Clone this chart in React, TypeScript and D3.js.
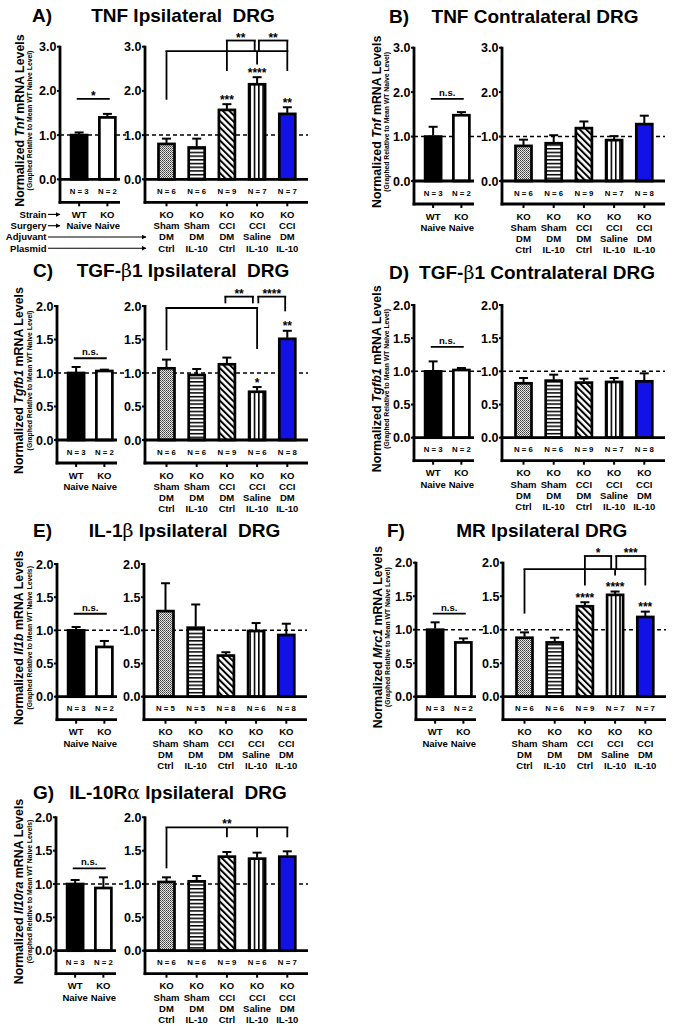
import React from 'react';
import * as d3 from 'd3';

// ---------- shared categories / ticks ----------
const leftGroups = [["WT", "Naive"], ["KO", "Naive"]];
const rightGroups = [
  ["KO", "Sham", "DM", "Ctrl"],
  ["KO", "Sham", "DM", "IL-10"],
  ["KO", "CCI", "DM", "Ctrl"],
  ["KO", "CCI", "Saline", "IL-10"],
  ["KO", "CCI", "DM", "IL-10"],
];
const rowNames = ["Strain", "Surgery", "Adjuvant", "Plasmid"];
const ticks3 = [0, 1, 2, 3];
const ticks2 = [0, 0.5, 1, 1.5, 2];
const ticks3Labels = ["0.0", "1.0", "2.0", "3.0"];
const ticks2Labels = ["0.0", "0.5", "1.0", "1.5", "2.0"];

// ---------- A) TNF ipsilateral ----------
const tnfIpsiLeft = [1.0, 1.4];
const tnfIpsiLeftSem = [0.06, 0.08];
const tnfIpsiLeftN = [3, 2];
const tnfIpsiRight = [0.8, 0.72, 1.57, 2.15, 1.48];
const tnfIpsiRightSem = [0.12, 0.2, 0.13, 0.16, 0.15];
const tnfIpsiRightN = [6, 6, 9, 7, 7];
const tnfIpsiStars = ["", "", "***", "****", "**"];

// ---------- B) TNF contralateral ----------
const tnfContraLeft = [1.0, 1.48];
const tnfContraLeftSem = [0.22, 0.07];
const tnfContraLeftN = [3, 2];
const tnfContraRight = [0.79, 0.85, 1.19, 0.92, 1.28];
const tnfContraRightSem = [0.14, 0.18, 0.15, 0.09, 0.19];
const tnfContraRightN = [6, 6, 9, 7, 8];

// ---------- C) TGF-b1 ipsilateral ----------
const tgfIpsiLeft = [1.0, 1.03];
const tgfIpsiLeftSem = [0.09, 0.02];
const tgfIpsiLeftN = [3, 2];
const tgfIpsiRight = [1.07, 0.97, 1.13, 0.72, 1.51];
const tgfIpsiRightSem = [0.13, 0.09, 0.1, 0.07, 0.12];
const tgfIpsiRightN = [6, 6, 9, 6, 8];
const tgfIpsiStars = ["", "", "", "*", "**"];

// ---------- D) TGF-b1 contralateral ----------
const tgfContraLeft = [1.0, 1.02];
const tgfContraLeftSem = [0.15, 0.03];
const tgfContraLeftN = [3, 2];
const tgfContraRight = [0.82, 0.86, 0.83, 0.84, 0.85];
const tgfContraRightSem = [0.08, 0.09, 0.06, 0.06, 0.12];
const tgfContraRightN = [6, 6, 9, 7, 8];

// ---------- E) IL-1b ipsilateral ----------
const il1bLeft = [1.0, 0.75];
const il1bLeftSem = [0.05, 0.09];
const il1bLeftN = [3, 2];
const il1bRight = [1.29, 1.04, 0.62, 0.99, 0.93];
const il1bRightSem = [0.42, 0.35, 0.05, 0.12, 0.17];
const il1bRightN = [5, 5, 8, 6, 8];

// ---------- F) MR ipsilateral ----------
const mrLeft = [1.0, 0.81];
const mrLeftSem = [0.11, 0.06];
const mrLeftN = [3, 2];
const mrRight = [0.88, 0.81, 1.35, 1.52, 1.19];
const mrRightSem = [0.08, 0.07, 0.06, 0.05, 0.08];
const mrRightN = [6, 6, 9, 7, 7];
const mrStars = ["", "", "****", "****", "***"];

// ---------- G) IL-10Ra ipsilateral ----------
const il10raLeft = [1.0, 0.94];
const il10raLeftSem = [0.06, 0.16];
const il10raLeftN = [3, 2];
const il10raRight = [1.03, 1.04, 1.41, 1.38, 1.41];
const il10raRightSem = [0.07, 0.08, 0.07, 0.09, 0.08];
const il10raRightN = [6, 6, 9, 6, 7];

const FONT = "'Liberation Sans', Arial, Helvetica, sans-serif";
const GREEK = "'DejaVu Serif', 'Liberation Serif', serif";
const BLUE = "#1212e6";
const fills = ["url(#pDots)", "url(#pHoriz)", "url(#pDiag)", "url(#pVert)", BLUE];

type Bracket = { x1: number; x2: number; y: number; legs: [number, number][]; label?: string; labelX?: number };

type PanelCfg = {
  label: string; labelX: number; title: { t: string; g?: boolean }[]; titleX: number; titleY: number;
  gene: string; sub: string; yLabX: number; subX: number;
  xL0: number; xR0: number; yTop: number; yZero: number; yMax: number; ticks: number[]; tickLabels: string[];
  left: number[]; leftSem: number[]; leftN: number[]; leftSig: string; leftSigLevel: number;
  right: number[]; rightSem: number[]; rightN: number[]; stars?: string[]; brackets?: Bracket[]; rows?: boolean;
};

const panels: PanelCfg[] = [
  {
    label: "A)", labelX: 32, title: [{ t: "TNF Ipsilateral  DRG" }], titleX: 183, titleY: 22,
    gene: "Tnf", sub: "(Graphed Relative to Mean WT Naive Level)", yLabX: 24, subX: 32,
    xL0: 60, xR0: 145, yTop: 46.7, yZero: 179.3, yMax: 3, ticks: ticks3, tickLabels: ticks3Labels,
    left: tnfIpsiLeft, leftSem: tnfIpsiLeftSem, leftN: tnfIpsiLeftN, leftSig: "*", leftSigLevel: 1.82,
    right: tnfIpsiRight, rightSem: tnfIpsiRightSem, rightN: tnfIpsiRightN, stars: tnfIpsiStars, rows: true,
    brackets: [
      { x1: 0, x2: 4, y: 2.9, legs: [[0, 1.8], [2, 2.45], [3, 2.6], [4, 2.45]] },
      { x1: 2, x2: 2.92, y: 3.14, legs: [[2, 2.9], [2.92, 2.9]], label: "**" },
      { x1: 3.06, x2: 4, y: 3.14, legs: [[3.06, 2.9], [4, 2.9]], label: "**" },
    ],
  },
  {
    label: "B)", labelX: 389, title: [{ t: "TNF Contralateral DRG" }], titleX: 535, titleY: 23,
    gene: "Tnf", sub: "(Graphed Relative to Mean WT Naive Level)", yLabX: 380.5, subX: 388.5,
    xL0: 414, xR0: 502, yTop: 47.7, yZero: 181, yMax: 3, ticks: ticks3, tickLabels: ticks3Labels,
    left: tnfContraLeft, leftSem: tnfContraLeftSem, leftN: tnfContraLeftN, leftSig: "n.s.", leftSigLevel: 1.85,
    right: tnfContraRight, rightSem: tnfContraRightSem, rightN: tnfContraRightN,
  },
  {
    label: "C)", labelX: 33, title: [{ t: "TGF-" }, { t: "β", g: true }, { t: "1 Ipsilateral  DRG" }], titleX: 183, titleY: 276.5,
    gene: "Tgfb1", sub: "(Graphed Relative to Mean WT Naive Level)", yLabX: 23, subX: 32,
    xL0: 57, xR0: 145, yTop: 306, yZero: 440, yMax: 2, ticks: ticks2, tickLabels: ticks2Labels,
    left: tgfIpsiLeft, leftSem: tgfIpsiLeftSem, leftN: tgfIpsiLeftN, leftSig: "n.s.", leftSigLevel: 1.22,
    right: tgfIpsiRight, rightSem: tgfIpsiRightSem, rightN: tgfIpsiRightN, stars: tgfIpsiStars,
    brackets: [
      { x1: 0, x2: 3, y: 1.97, legs: [[0, 1.34], [3, 1.36]] },
      { x1: 1.95, x2: 2.86, y: 2.14, legs: [[1.95, 2.04], [2.86, 2.04]], label: "**" },
      { x1: 3.04, x2: 3.93, y: 2.14, legs: [[3.04, 2.04], [3.93, 1.92]], label: "****" },
    ],
  },
  {
    label: "D)", labelX: 389, title: [{ t: "TGF-" }, { t: "β", g: true }, { t: "1 Contralateral DRG" }], titleX: 537, titleY: 279,
    gene: "Tgfb1", sub: "(Graphed Relative to Mean WT Naive Level)", yLabX: 380.5, subX: 388.5,
    xL0: 414, xR0: 502, yTop: 305, yZero: 437.7, yMax: 2, ticks: ticks2, tickLabels: ticks2Labels,
    left: tgfContraLeft, leftSem: tgfContraLeftSem, leftN: tgfContraLeftN, leftSig: "n.s.", leftSigLevel: 1.37,
    right: tgfContraRight, rightSem: tgfContraRightSem, rightN: tgfContraRightN,
  },
  {
    label: "E)", labelX: 33, title: [{ t: "IL-1" }, { t: "β", g: true }, { t: " Ipsilateral  DRG" }], titleX: 184.5, titleY: 536.5,
    gene: "Il1b", sub: "(Graphed Relative to Mean WT Naive Levels)", yLabX: 23, subX: 32,
    xL0: 57, xR0: 144, yTop: 564, yZero: 696.7, yMax: 2, ticks: ticks2, tickLabels: ticks2Labels,
    left: il1bLeft, leftSem: il1bLeftSem, leftN: il1bLeftN, leftSig: "n.s.", leftSigLevel: 1.25,
    right: il1bRight, rightSem: il1bRightSem, rightN: il1bRightN,
  },
  {
    label: "F)", labelX: 387, title: [{ t: "MR Ipsilateral DRG" }], titleX: 541.7, titleY: 536.5,
    gene: "Mrc1", sub: "(Graphed Relative to Mean WT Naive Level)", yLabX: 382, subX: 390,
    xL0: 416, xR0: 503, yTop: 562.7, yZero: 696.7, yMax: 2, ticks: ticks2, tickLabels: ticks2Labels,
    left: mrLeft, leftSem: mrLeftSem, leftN: mrLeftN, leftSig: "n.s.", leftSigLevel: 1.24,
    right: mrRight, rightSem: mrRightSem, rightN: mrRightN, stars: mrStars,
    brackets: [
      { x1: 0, x2: 4, y: 1.905, legs: [[0, 1.24], [2, 1.66], [3, 1.81], [4, 1.66]] },
      { x1: 2, x2: 2.87, y: 2.1, legs: [[2, 1.905], [2.87, 1.905]], label: "*" },
      { x1: 3.04, x2: 4, y: 2.1, legs: [[3.04, 1.905], [4, 1.905]], label: "***" },
    ],
  },
  {
    label: "G)", labelX: 33, title: [{ t: "IL-10R" }, { t: "α", g: true }, { t: " Ipsilateral  DRG" }], titleX: 178, titleY: 799,
    gene: "Il10ra", sub: "(Graphed Relative to Mean WT Naive Levels)", yLabX: 23, subX: 32,
    xL0: 56, xR0: 145, yTop: 817.3, yZero: 950.7, yMax: 2, ticks: ticks2, tickLabels: ticks2Labels,
    left: il10raLeft, leftSem: il10raLeftSem, leftN: il10raLeftN, leftSig: "n.s.", leftSigLevel: 1.235,
    right: il10raRight, rightSem: il10raRightSem, rightN: il10raRightN,
    brackets: [
      { x1: 0, x2: 4, y: 1.85, legs: [[0, 1.235], [2, 1.7], [3, 1.7], [4, 1.7]], label: "**", labelX: 2 },
    ],
  },
];

function Bar({ cx, v, sem, y, yZero, fill }: any) {
  const top = y(v);
  const et = y(v + sem);
  return (
    <g>
      <rect x={cx - 8} y={top} width={16} height={yZero - top} fill={fill} stroke="#000" strokeWidth={2.7} />
      <line x1={cx} x2={cx} y1={top - 1} y2={et} stroke="#000" strokeWidth={2} />
      <line x1={cx - 4.5} x2={cx + 4.5} y1={et} y2={et} stroke="#000" strokeWidth={2} />
    </g>
  );
}

function Panel({ p }: { p: PanelCfg }) {
  const y = d3.scaleLinear().domain([0, p.yMax]).range([p.yZero, p.yTop]);
  const yBottom = p.yZero + 23;
  const xL1 = p.xL0 + 60;
  const xR1 = p.xR0 + 163;
  const xl = d3.scaleBand().domain(["0", "1"]).range([p.xL0 + 5, p.xL0 + 61.5]);
  const xr = d3.scaleBand().domain(["0", "1", "2", "3", "4"]).range([p.xR0 + 6.4, p.xR0 + 157.4]);
  const cl = (i: number) => (xl(String(i)) as number) + xl.bandwidth() / 2;
  const cr = (i: number) => (xr(String(i)) as number) + xr.bandwidth() / 2;
  const crf = d3.scaleLinear().domain([0, 4]).range([cr(0), cr(4)]);
  const mid = (cl(0) + cl(1)) / 2;
  const yLabCenter = (p.yTop + yBottom) / 2 - 4;
  const nY = p.yZero + 14.5;
  const catY = (r: number) => p.yZero + 38.5 + r * 11.3;

  const axis = (x0: number, x1: number, withLabels: boolean) => (
    <g>
      <line x1={x0} x2={x0} y1={p.yTop - 1} y2={yBottom + 1.4} stroke="#000" strokeWidth={2.8} />
      <line x1={x0 - 1.4} x2={x1} y1={p.yZero} y2={p.yZero} stroke="#000" strokeWidth={2.8} />
      <line x1={x0 - 1.4} x2={x1} y1={yBottom} y2={yBottom} stroke="#000" strokeWidth={2.8} />
      {p.ticks.map((t, i) => (
        <g key={i}>
          <line x1={x0 - 3} x2={x0} y1={y(t)} y2={y(t)} stroke="#000" strokeWidth={2} />
          {withLabels && (
            <text x={x0 - 3.5} y={y(t)} dy="0.36em" textAnchor="end" fontSize={12.5} fontWeight="bold">{p.tickLabels[i]}</text>
          )}
        </g>
      ))}
    </g>
  );

  return (
    <g fontFamily={FONT}>
      {/* title */}
      <text x={p.labelX} y={p.titleY} fontSize={19} fontWeight="bold">{p.label}</text>
      <text x={p.titleX} y={p.titleY} fontSize={19} fontWeight="bold" textAnchor="middle" style={{ whiteSpace: 'pre' }}>
        {p.title.map((s, i) => (
          <tspan key={i} fontFamily={s.g ? GREEK : FONT} fontWeight={s.g ? 'normal' : 'bold'}>{s.t}</tspan>
        ))}
      </text>
      {/* y label */}
      <text transform={`translate(${p.yLabX},${yLabCenter}) rotate(-90)`} textAnchor="middle" fontSize={12.4} fontWeight="bold">
        Normalized <tspan fontStyle="italic">{p.gene}</tspan> mRNA Levels
      </text>
      <text transform={`translate(${p.subX},${yLabCenter}) rotate(-90)`} textAnchor="middle" fontSize={6.8} fontWeight="bold">
        {p.sub}
      </text>

      {/* dashed reference */}
      <line x1={p.xL0} x2={p.xR0 - 19} y1={y(1)} y2={y(1)} stroke="#000" strokeWidth={1.5} strokeDasharray="4,3" />
      <line x1={p.xR0} x2={xR1} y1={y(1)} y2={y(1)} stroke="#000" strokeWidth={1.5} strokeDasharray="4,3" />

      {/* bars */}
      {p.left.map((v, i) => (
        <Bar key={i} cx={cl(i)} v={v} sem={p.leftSem[i]} y={y} yZero={p.yZero} fill={i === 0 ? "#000" : "#fff"} />
      ))}
      {p.right.map((v, i) => (
        <Bar key={i} cx={cr(i)} v={v} sem={p.rightSem[i]} y={y} yZero={p.yZero} fill={fills[i]} />
      ))}

      {axis(p.xL0, xL1, true)}
      {axis(p.xR0, xR1, true)}

      {/* category ticks */}
      {[0, 1].map(i => <line key={'tl' + i} x1={cl(i)} x2={cl(i)} y1={yBottom} y2={yBottom + 4} stroke="#000" strokeWidth={2} />)}
      {[0, 1, 2, 3, 4].map(i => <line key={'tr' + i} x1={cr(i)} x2={cr(i)} y1={yBottom} y2={yBottom + 4} stroke="#000" strokeWidth={2} />)}

      {/* N labels */}
      {p.leftN.map((n, i) => <text key={'nl' + i} x={cl(i)} y={nY} textAnchor="middle" fontSize={7.8} fontWeight="bold">{`N = ${n}`}</text>)}
      {p.rightN.map((n, i) => <text key={'nr' + i} x={cr(i)} y={nY} textAnchor="middle" fontSize={7.8} fontWeight="bold">{`N = ${n}`}</text>)}

      {/* category labels */}
      {leftGroups.map((g, i) => g.map((s, r) => (
        <text key={`cl${i}${r}`} x={cl(i)} y={catY(r)} textAnchor="middle" fontSize={9.5} fontWeight="bold">{s}</text>
      )))}
      {rightGroups.map((g, i) => g.map((s, r) => (
        <text key={`cr${i}${r}`} x={cr(i)} y={catY(r)} textAnchor="middle" fontSize={9.5} fontWeight="bold">{s}</text>
      )))}

      {/* row names with arrows */}
      {p.rows && rowNames.map((s, r) => (
        <g key={'row' + r}>
          <text x={46.5} y={catY(r)} textAnchor="end" fontSize={9.5} fontWeight="bold">{s}</text>
          <line x1={48} x2={r < 2 ? 60 : 146} y1={catY(r) - 3.4} y2={catY(r) - 3.4} stroke="#000" strokeWidth={1.1} markerEnd="url(#arrow)" />
        </g>
      ))}

      {/* left significance */}
      <line x1={mid - 16.5} x2={mid + 16.5} y1={y(p.leftSigLevel)} y2={y(p.leftSigLevel)} stroke="#000" strokeWidth={1.8} />
      <text x={mid} y={p.leftSig === "*" ? y(p.leftSigLevel) + 1.5 : y(p.leftSigLevel) - 3} textAnchor="middle"
        fontSize={p.leftSig === "*" ? 12 : 9.5} fontWeight="bold">{p.leftSig}</text>

      {/* bar stars */}
      {p.stars && p.stars.map((s, i) => s ? (
        <text key={'st' + i} x={cr(i)} y={y(p.right[i] + p.rightSem[i]) - 0.5} textAnchor="middle" fontSize={12} fontWeight="bold">{s}</text>
      ) : null)}

      {/* brackets */}
      {p.brackets && p.brackets.map((b, k) => (
        <g key={'br' + k}>
          <line x1={crf(b.x1) - 1} x2={crf(b.x2) + 1} y1={y(b.y)} y2={y(b.y)} stroke="#000" strokeWidth={1.8} />
          {b.legs.map((l, j) => (
            <line key={j} x1={crf(l[0])} x2={crf(l[0])} y1={y(b.y)} y2={y(l[1])} stroke="#000" strokeWidth={1.8} />
          ))}
          {b.label && (
            <text x={b.labelX !== undefined ? crf(b.labelX) : (crf(b.x1) + crf(b.x2)) / 2} y={y(b.y) + 1}
              textAnchor="middle" fontSize={12} fontWeight="bold">{b.label}</text>
          )}
        </g>
      ))}
    </g>
  );
}

export default function App() {
  return (
    <svg width={674} height={1030} style={{ position: 'absolute', left: 0, top: 0, background: '#fff' }}>
      <defs>
        <pattern id="pDots" width={2} height={2} patternUnits="userSpaceOnUse">
          <rect width={2} height={2} fill="#e6e6e6" />
          <rect width={1} height={1} fill="#3a3a3a" />
          <rect x={1} y={1} width={1} height={1} fill="#6a6a6a" />
        </pattern>
        <pattern id="pHoriz" width={4} height={3.7} patternUnits="userSpaceOnUse">
          <rect width={4} height={3.7} fill="#fff" />
          <rect y={0} width={4} height={1.5} fill="#000" />
        </pattern>
        <pattern id="pDiag" width={4.6} height={4.6} patternUnits="userSpaceOnUse" patternTransform="rotate(-45)">
          <rect width={4.6} height={4.6} fill="#fff" />
          <rect x={0} width={2} height={4.6} fill="#000" />
        </pattern>
        <pattern id="pVert" width={4.3} height={4} patternUnits="userSpaceOnUse">
          <rect width={4.3} height={4} fill="#fff" />
          <rect x={0} width={1.6} height={4} fill="#000" />
        </pattern>
        <marker id="arrow" viewBox="0 0 10 10" refX={9} refY={5} markerWidth={5} markerHeight={5} orient="auto" markerUnits="userSpaceOnUse">
          <path d="M0,0 L10,5 L0,10 z" fill="#000" />
        </marker>
      </defs>
      <rect width={674} height={1030} fill="#fff" />
      {panels.map((p, i) => <Panel key={i} p={p} />)}
    </svg>
  );
}
